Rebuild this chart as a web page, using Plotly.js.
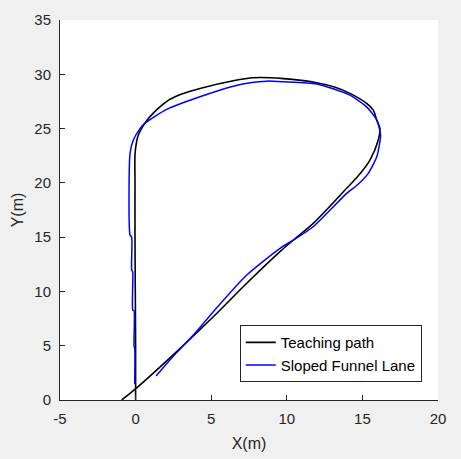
<!DOCTYPE html>
<html>
<head>
<meta charset="utf-8">
<script src="https://cdn.plot.ly/plotly-3.0.1.min.js"></script>
<style>
  html, body { margin: 0; padding: 0; background: #f0f0f0; }
  #plot { width: 461px; height: 459px; }
</style>
</head>
<body>
<div id="plot"></div>
<script>
// Teaching path (black), in metres
let teachX = [0.0, 0.0, -0.02, -0.04, -0.04, -0.03, 0.18, 0.62, 0.95, 1.61, 2.28, 3.15, 4.26, 6.46, 7.78, 9.77,
              11.98, 13.2, 14.18, 15.28, 15.72, 15.95, 16.16, 16.05, 15.5, 14.7, 13.96, 11.75, 10.43, 9.55,
              7.35, 5.14, 2.95, 0.03, -0.92];
let teachY = [0.0, 5.0, 10.0, 15.0, 20.0, 22.8, 24.4, 25.5, 26.1, 27.0, 27.7, 28.24, 28.7, 29.4, 29.68, 29.6,
              29.22, 28.8, 28.24, 27.32, 26.7, 25.78, 25.02, 23.94, 22.1, 20.6, 19.5, 16.27, 14.73, 13.66,
              10.75, 7.67, 4.76, 1.07, 0.0];

// Sloped funnel lane (blue)
let laneX = [1.35, 2.4, 3.93, 5.14, 7.35, 9.55, 10.43, 11.75, 13.96, 14.7, 15.35, 15.95, 16.2, 15.95, 15.28,
             14.18, 11.98, 9.77, 8.67, 7.57, 6.46, 4.26, 2.06, 0.62, 0.29, -0.15, -0.37, -0.37,
             -0.26, -0.26, -0.19, -0.19, -0.1, -0.1, -0.06, -0.06];
let laneY = [2.21, 3.9, 6.14, 8.13, 11.51, 13.97, 14.73, 15.96, 19.03, 19.85, 20.8, 22.4, 24.4, 25.78, 27.0,
             28.08, 29.1, 29.31, 29.37, 29.22, 28.9, 27.93, 26.77, 25.5, 25.0, 23.94, 22.7, 15.2,
             15.0, 12.0, 11.8, 8.3, 8.2, 4.9, 4.8, 1.5];

let xTicks = [-5, 0, 5, 10, 15, 20];
let xTickText = ['-5', '0', '5', '10', '15', '20'];
let yTicks = [0, 5, 10, 15, 20, 25, 30, 35];

let fontFamily = 'Arial, "Liberation Sans", sans-serif';
let tickFont = { family: fontFamily, size: 15, color: '#262626' };
let titleFont = { family: fontFamily, size: 16, color: '#262626' };

let teach = {
    x: teachX, y: teachY,
    mode: 'lines',
    name: 'Teaching path',
    line: { color: '#000000', width: 1.6, shape: 'spline', smoothing: 0.8 }
};

let lane = {
    x: laneX, y: laneY,
    mode: 'lines',
    name: 'Sloped Funnel Lane',
    line: { color: '#0000ff', width: 1.5, shape: 'spline', smoothing: 0.6 }
};

let axisStyle = {
    showgrid: false,
    zeroline: false,
    showline: true,
    linecolor: '#262626',
    linewidth: 1,
    ticks: 'inside',
    ticklen: 5,
    tickcolor: '#262626',
    tickfont: tickFont,
    fixedrange: true
};

let layout = {
    width: 461,
    height: 459,
    margin: { l: 60, r: 23, t: 20, b: 59 },
    paper_bgcolor: '#f0f0f0',
    plot_bgcolor: '#ffffff',
    showlegend: true,
    xaxis: Object.assign({}, axisStyle, {
        range: [-5, 20],
        tickvals: xTicks,
        ticktext: xTickText,
        ticklabelstandoff: 5,
        title: { text: 'X(m)', font: titleFont, standoff: 11 }
    }),
    yaxis: Object.assign({}, axisStyle, {
        range: [0, 35],
        tickvals: yTicks,
        ticklabelstandoff: 5,
        title: { text: 'Y(m)', font: titleFont, standoff: 6 }
    }),
    legend: {
        x: 0.957, y: 0.047,
        xanchor: 'right', yanchor: 'bottom',
        bgcolor: '#ffffff',
        bordercolor: '#262626',
        borderwidth: 1,
        tracegroupgap: 0,
        font: { family: fontFamily, size: 15, color: '#000000' }
    }
};

Plotly.newPlot('plot', [teach, lane], layout, { displayModeBar: false, staticPlot: true });
</script>
</body>
</html>
